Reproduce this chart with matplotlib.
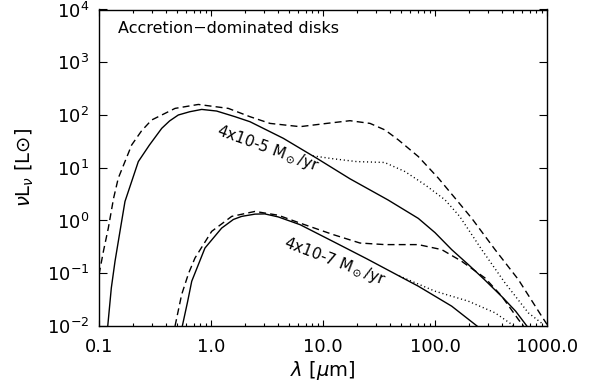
import matplotlib
matplotlib.use("Agg")
import matplotlib.pyplot as plt
from matplotlib.ticker import FixedLocator, FixedFormatter, LogLocator, NullLocator

plt.rcParams['font.family'] = ['DejaVu Sans']
plt.rcParams['mathtext.fontset'] = 'dejavusans'
plt.rcParams['lines.scale_dashes'] = False

# 4x10^-5 Msun/yr model: disk only (solid), with envelope (dashed), dotted variant
hi_solid_lam = [0.1197, 0.1288, 0.139, 0.1549, 0.1706, 0.2244, 0.2818, 0.3631, 0.4266,
                0.5105, 0.6457, 0.826, 1.122, 1.637, 2.228, 4.426, 8.79, 17.42, 38.02,
                70.96, 100, 140.9, 199.5, 279.3, 398.1, 524.8, 660.7]
hi_solid_L = [0.01, 0.0525, 0.1687, 0.676, 2.296, 13.09, 26.9, 55.85, 77.1,
              100, 115.3, 127.6, 118.9, 92.9, 74.6, 36.1, 15.14, 6.17, 2.455,
              1.096, 0.589, 0.2805, 0.1445, 0.0741, 0.0355, 0.0191, 0.01]

hi_dash_lam = [0.1, 0.1096, 0.1211, 0.1349, 0.1486, 0.1959, 0.2399, 0.2951, 0.4775,
               0.7709, 1.429, 2.228, 3.365, 6.237, 10.79, 17.42, 26.3, 35.81, 47.1,
               70.96, 107.2, 151.0, 212.3, 343.6, 554.6, 895.4, 1000]
hi_dash_L = [0.0944, 0.263, 0.718, 2.63, 6.34, 27.1, 50.1, 80.4, 133.4,
             158.5, 133.4, 92.9, 69.3, 60.1, 69.3, 78.0, 69.3, 52.0, 33.7,
             16.3, 6.34, 2.655, 1.109, 0.2805, 0.076, 0.01538, 0.01072]

hi_dot_lam = [8.128, 12.36, 19.95, 35.48, 53.95, 81.47, 122.7, 166.0, 261.2, 421.7,
              680.8, 926.8]
hi_dot_L = [16.79, 14.79, 13.09, 12.59, 8.47, 4.75, 2.472, 1.197, 0.2805, 0.0656,
            0.01778, 0.01072]

# 4x10^-7 Msun/yr model
lo_solid_lam = [0.5546, 0.6166, 0.673, 0.8831, 1.245, 1.585, 1.879, 2.472, 3.02, 3.981,
                6.237, 12.36, 24.55, 35.81, 70.96, 140.9, 227.5, 237.1]
lo_solid_L = [0.01, 0.0282, 0.0706, 0.3006, 0.718, 1.047, 1.197, 1.321, 1.334, 1.17,
              0.834, 0.398, 0.1884, 0.123, 0.0568, 0.02377, 0.01072, 0.01]

lo_dash_lam = [0.4775, 0.547, 0.631, 0.7194, 1.014, 1.531, 2.472, 3.981, 6.237, 12.36,
               21.38, 35.81, 70.96, 114.8, 173.0, 279.3, 394.5, 554.6, 616.6]
lo_dash_L = [0.01, 0.0395, 0.1, 0.1945, 0.6223, 1.197, 1.486, 1.259, 0.893, 0.5395,
             0.3741, 0.3491, 0.3491, 0.2805, 0.1687, 0.0815, 0.0367, 0.01334, 0.01]

lo_dot_lam = [47.86, 100, 198.2, 343.6, 484.2, 501.2]
lo_dot_L = [0.0891, 0.0457, 0.02958, 0.01778, 0.01072, 0.01]

xticks = [0.1, 1.0, 10.0, 100.0, 1000.0]
xticklabels = ['0.1', '1.0', '10.0', '100.0', '1000.0']
yticks = [1e-2, 1e-1, 1e0, 1e1, 1e2, 1e3, 1e4]
yticklabels = [r'$10^{-2}$', r'$10^{-1}$', r'$10^{0}$', r'$10^{1}$',
               r'$10^{2}$', r'$10^{3}$', r'$10^{4}$']

fig = plt.figure(figsize=(5.94, 3.85), dpi=100)
ax = fig.add_axes([99/594, 1 - 326/385, 448/594, 316.5/385])

lw = 1.0
dash = (5, 3)
dot = (0.8, 2.0)
ax.plot(hi_solid_lam, hi_solid_L, color='black', lw=lw)
ax.plot(hi_dash_lam, hi_dash_L, color='black', lw=lw, dashes=dash)
ax.plot(hi_dot_lam, hi_dot_L, color='black', lw=lw, dashes=dot)
ax.plot(lo_solid_lam, lo_solid_L, color='black', lw=lw)
ax.plot(lo_dash_lam, lo_dash_L, color='black', lw=lw, dashes=dash)
ax.plot(lo_dot_lam, lo_dot_L, color='black', lw=lw, dashes=dot)

ax.set_xscale('log')
ax.set_yscale('log')
ax.set_xlim(0.1, 1000)
ax.set_ylim(1e-2, 1e4)

ax.xaxis.set_major_locator(FixedLocator(xticks))
ax.xaxis.set_major_formatter(FixedFormatter(xticklabels))
ax.xaxis.set_minor_locator(LogLocator(base=10, subs=range(2, 10)))
ax.yaxis.set_major_locator(FixedLocator(yticks))
ax.yaxis.set_major_formatter(FixedFormatter(yticklabels))
ax.yaxis.set_minor_locator(NullLocator())

ax.tick_params(axis='x', which='major', direction='in', top=True, length=4.5, width=0.8,
               labelsize=13, pad=9)
ax.tick_params(axis='x', which='minor', direction='in', top=True, length=2.5, width=0.8)
ax.tick_params(axis='y', which='major', direction='in', right=True, length=6, width=0.8,
               labelsize=13, pad=7)
for s in ax.spines.values():
    s.set_linewidth(1.0)

ax.set_xlabel(r'$\lambda$ [$\mu$m]', fontsize=14, labelpad=2)
ax.set_ylabel(r'$\nu$L$_\nu$ [L⊙]', fontsize=14, labelpad=8)

ax.text(0.042, 0.926, 'Accretion\u2212dominated disks', transform=ax.transAxes,
        fontsize=11.5, va='baseline', ha='left')
ax.text(3.2, 23.0, '4x10-5 M$_\\odot$/yr', fontsize=11, rotation=-20,
        ha='center', va='center', rotation_mode='anchor')
ax.text(12.8, 0.165, '4x10-7 M$_\\odot$/yr', fontsize=11, rotation=-21,
        ha='center', va='center', rotation_mode='anchor')

fig.savefig('out.png', dpi=100)
